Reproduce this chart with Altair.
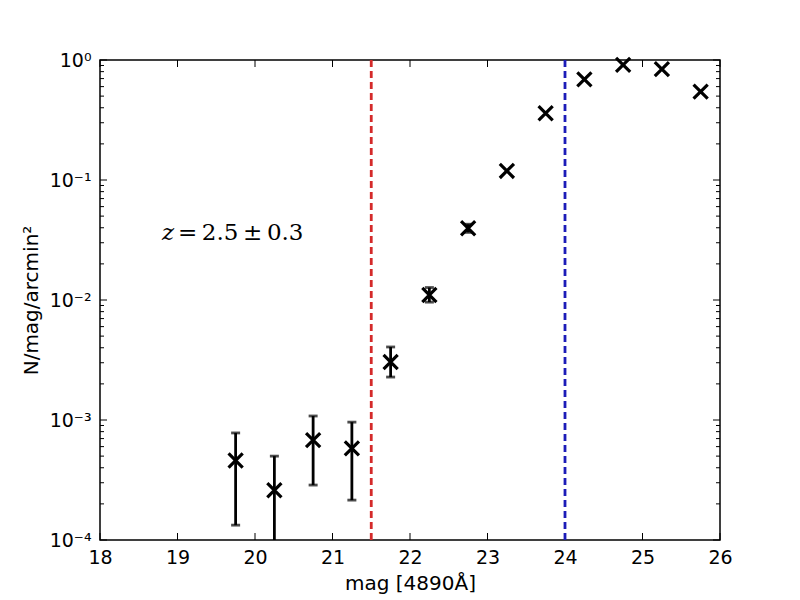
import altair as alt
import pandas as pd

# ---- data ----
mag = [19.75, 20.25, 20.75, 21.25, 21.75, 22.25, 22.75, 23.25, 23.75, 24.25, 24.75, 25.25, 25.75]
n_val = [4.6e-4, 2.6e-4, 6.8e-4, 5.8e-4, 3.04e-3, 1.1e-2, 3.96e-2, 0.119, 0.36, 0.69, 0.91, 0.84, 0.545]
err_lo = [1.33e-4, 5e-5, 2.87e-4, 2.15e-4, 2.28e-3, 9.6e-3, 3.66e-2, 0.115, 0.355, 0.685, 0.905, 0.835, 0.54]
err_hi = [7.8e-4, 5.0e-4, 1.08e-3, 9.6e-4, 4.06e-3, 1.27e-2, 4.28e-2, 0.124, 0.365, 0.695, 0.915, 0.845, 0.55]
show_err = [True, True, True, True, True, True, True, False, False, False, False, False, False]

vlines_x = [21.5, 24.0]
vlines_color = ["#d42a2a", "#1c1cb8"]

x_ticks = [18, 19, 20, 21, 22, 23, 24, 25, 26]
y_ticks = [1e-4, 1e-3, 1e-2, 1e-1, 1.0]
y_tick_labels = ["10⁻⁴", "10⁻³", "10⁻²", "10⁻¹", "10⁰"]
y_minor = [m * d for d in [1e-4, 1e-3, 1e-2, 1e-1] for m in [2, 3, 4, 5, 6, 7, 8, 9]]

annot_x = [18.8]
annot_y = [0.0363]

W, H = 620, 480
FONT = "DejaVu Sans"

pts = pd.DataFrame({"mag": mag, "n": n_val, "lo": err_lo, "hi": err_hi, "show": show_err})
errs = pts[pts["show"]]

xscale = alt.Scale(domain=[18, 26], nice=False, zero=False)
yscale = alt.Scale(type="log", domain=[1e-4, 1], nice=False)

label_expr = " : ".join(
    f"abs(datum.value - {v}) < {v * 0.01} ? '{lab}'" for v, lab in zip(y_ticks, y_tick_labels)
) + " : ''"

xaxis = alt.Axis(values=x_ticks, ticks=False, domain=False, grid=False, labelFontSize=19,
                 labelPadding=8, labelFlush=False, labelOverlap=False,
                 title="mag [4890Å]", titleFontSize=20, titleFontWeight="normal",
                 titlePadding=6, labelFont=FONT, titleFont=FONT, labelColor="black", titleColor="black")
yaxis = alt.Axis(values=y_ticks, ticks=False, domain=False, grid=False, labelFontSize=19,
                 labelExpr=label_expr, labelPadding=9, labelFlush=False, labelOverlap=False,
                 title="N/mag/arcmin²", titleFontSize=20,
                 titleFontWeight="normal", titlePadding=8, labelFont=FONT, titleFont=FONT,
                 labelColor="black", titleColor="black")

base_x = alt.X("mag:Q", scale=xscale, axis=xaxis)

vdf = pd.DataFrame({"x": vlines_x, "c": vlines_color})
vlines = alt.Chart(vdf).mark_rule(strokeDash=[7, 4], strokeWidth=2.8).encode(
    x=alt.X("x:Q", scale=xscale, axis=xaxis),
    color=alt.Color("c:N", scale=None),
)

bars = alt.Chart(errs).mark_rule(strokeWidth=2.8, color="black", clip=True).encode(
    x=base_x,
    y=alt.Y("lo:Q", scale=yscale, axis=yaxis),
    y2="hi:Q",
)
cap_lo = alt.Chart(errs).mark_tick(orient="horizontal", size=9, thickness=2.8, color="black", clip=True).encode(
    x=base_x, y=alt.Y("lo:Q", scale=yscale, axis=yaxis)
)
cap_hi = alt.Chart(errs).mark_tick(orient="horizontal", size=9, thickness=2.8, color="black", clip=True).encode(
    x=base_x, y=alt.Y("hi:Q", scale=yscale, axis=yaxis)
)

points = alt.Chart(pts).mark_point(
    shape="M-1,-1L1,1M-1,1L1,-1", size=200, strokeWidth=3.2, color="black", filled=False, opacity=1
).encode(x=base_x, y=alt.Y("n:Q", scale=yscale, axis=yaxis))

adf = pd.DataFrame({"x": annot_x, "y": annot_y})
annot_z = alt.Chart(adf).mark_text(
    text="z", align="left", baseline="middle", font="DejaVu Serif", fontStyle="italic",
    fontSize=23, color="black"
).encode(x=alt.X("x:Q", scale=xscale, axis=xaxis), y=alt.Y("y:Q", scale=yscale, axis=yaxis))
annot_rest = alt.Chart(adf).mark_text(
    text="=\u20092.5\u2009±\u20090.3", align="left", baseline="middle", font="DejaVu Serif",
    fontSize=23, dx=16, color="black"
).encode(x=alt.X("x:Q", scale=xscale, axis=xaxis), y=alt.Y("y:Q", scale=yscale, axis=yaxis))

# tick marks drawn inward (matplotlib style)
xt = pd.DataFrame({"t": x_ticks})
tick_bottom = alt.Chart(xt).mark_rule(color="black", strokeWidth=1).encode(
    x=alt.X("t:Q", scale=xscale, axis=xaxis), y=alt.value(H), y2=alt.value(H - 7))
tick_top = alt.Chart(xt).mark_rule(color="black", strokeWidth=1).encode(
    x=alt.X("t:Q", scale=xscale, axis=xaxis), y=alt.value(0), y2=alt.value(7))

ytm = pd.DataFrame({"t": y_ticks})
ytn = pd.DataFrame({"t": y_minor})
tick_left = alt.Chart(ytm).mark_rule(color="black", strokeWidth=1).encode(
    y=alt.Y("t:Q", scale=yscale, axis=yaxis), x=alt.value(0), x2=alt.value(7))
tick_right = alt.Chart(ytm).mark_rule(color="black", strokeWidth=1).encode(
    y=alt.Y("t:Q", scale=yscale, axis=yaxis), x=alt.value(W), x2=alt.value(W - 7))
mtick_left = alt.Chart(ytn).mark_rule(color="black", strokeWidth=1).encode(
    y=alt.Y("t:Q", scale=yscale, axis=yaxis), x=alt.value(0), x2=alt.value(4))
mtick_right = alt.Chart(ytn).mark_rule(color="black", strokeWidth=1).encode(
    y=alt.Y("t:Q", scale=yscale, axis=yaxis), x=alt.value(W), x2=alt.value(W - 4))

chart = alt.layer(
    tick_bottom, tick_top, tick_left, tick_right, mtick_left, mtick_right,
    vlines, bars, cap_lo, cap_hi, points, annot_z, annot_rest
).properties(
    width=W, height=H,
    autosize=alt.AutoSizeParams(type="none"),
    padding={"left": 92, "top": 52, "right": 70, "bottom": 58},
    background="white",
).configure_view(stroke="black", strokeWidth=1.5)

chart.save("out.html", embed_options={"renderer": "svg", "actions": False})
